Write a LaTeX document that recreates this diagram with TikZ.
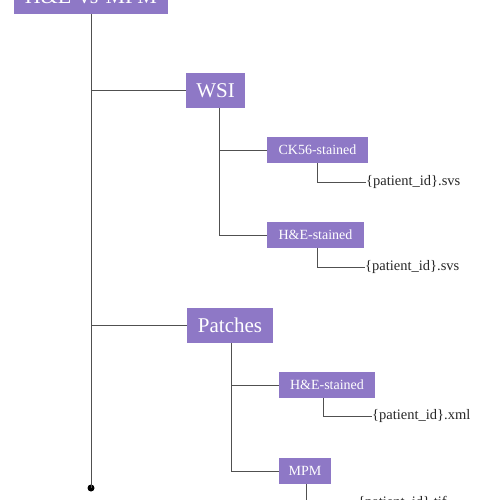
\documentclass[tikz,border=0pt]{standalone}
\usepackage{fontspec}
\setmainfont{Liberation Serif}
\definecolor{boxpurple}{RGB}{142,120,198}
\definecolor{linegray}{RGB}{80,80,80}
\begin{document}
\begin{tikzpicture}[x=1pt,y=-1pt,
  pbox/.style={fill=boxpurple,text=white,inner sep=0pt,anchor=center},
  bigbox/.style={pbox,font=\fontsize{21}{24}\selectfont},
  smallbox/.style={pbox,font=\fontsize{14}{16}\selectfont,minimum height=26pt},
  leaf/.style={inner sep=0pt,anchor=west,text=black!85,font=\fontsize{14.5}{16}\selectfont},
  conn/.style={draw=linegray,line width=0.8pt}]
\useasboundingbox (0,0) rectangle (500,500);
\clip (0,0) rectangle (500,500);
% boxes
\node[bigbox,minimum width=154pt,minimum height=35pt,font=\fontsize{22}{24}\selectfont] (root) at (91,-3.5) {H\&E-vs-MPM};
\node[bigbox,minimum width=59pt,minimum height=35pt] (wsi) at (215.5,90.5) {WSI};
\node[smallbox,minimum width=101pt] (ck) at (317.5,150) {CK56-stained};
\node[smallbox,minimum width=97pt] (he1) at (315.5,235) {H\&E-stained};
\node[bigbox,minimum width=86pt,minimum height=35pt] (patches) at (230,325.5) {Patches};
\node[smallbox,minimum width=96pt] (he2) at (327,385) {H\&E-stained};
\node[smallbox,minimum width=52pt] (mpm) at (305,471) {MPM};
% leaves
\node[leaf] (l1) at (366,182) {\{patient\_id\}.svs};
\node[leaf] (l2) at (365,267) {\{patient\_id\}.svs};
\node[leaf] (l3) at (372,416) {\{patient\_id\}.xml};
\node[leaf] (l4) at (358,503) {\{patient\_id\}.tif};
% end point
\coordinate (end) at (91,488);
\fill[black] (end) circle (3.5pt);
% main trunk
\draw[conn] (root.south) -- (end);
\draw[conn] (91,90.5) -- (wsi.west);
\draw[conn] (91,325.5) -- (patches.west);
% WSI branch
\draw[conn] (219,108) |- (ck.west);
\draw[conn] (219,150) |- (he1.west);
\draw[conn] (317,163) |- (l1.west);
\draw[conn] (317,248) |- (l2.west);
% Patches branch
\draw[conn] (231,343) |- (he2.west);
\draw[conn] (231,385) |- (mpm.west);
\draw[conn] (323,398) |- (l3.west);
\draw[conn] (306,484) |- (l4.west);
\end{tikzpicture}
\end{document}
